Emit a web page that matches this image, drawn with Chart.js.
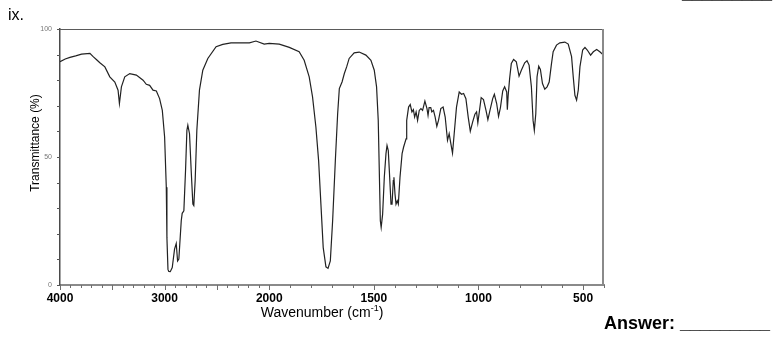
<!DOCTYPE html>
<html>
<head>
<meta charset="utf-8">
<title>IR spectrum</title>
<script src="https://cdn.jsdelivr.net/npm/chart.js@4/dist/chart.umd.min.js"></script>
<style>
  html, body { margin: 0; padding: 0; background: #fff; }
  #wrap { position: relative; width: 781px; height: 339px; }
  canvas { display: block; }
</style>
</head>
<body>
<div id="wrap"><canvas id="ir" width="781" height="339"></canvas></div>
<script>
// Wavenumber (cm-1) of each sampled point, high to low
const wavenumbers = [
  4000, 3950, 3905, 3850, 3794, 3714, 3683, 3650, 3619, 3571, 3524, 3476, 3445, 3432, 3413, 3381,
  3333, 3270, 3206, 3175, 3143, 3111, 3079, 3048, 3022, 3000, 2984, 2978, 2968, 2960, 2946, 2927,
  2905, 2889, 2876, 2864, 2841, 2832, 2816, 2800, 2787, 2778, 2762, 2746, 2730, 2721, 2708, 2692,
  2667, 2635, 2587, 2508, 2444, 2365, 2190, 2127, 2048, 2000, 1952, 1904, 1857, 1833, 1809, 1793,
  1777, 1764, 1753, 1742, 1729, 1719, 1708, 1697, 1684, 1673, 1665, 1652, 1641, 1630, 1618, 1594,
  1570, 1538, 1514, 1498, 1487, 1479, 1474, 1469, 1465, 1458, 1450, 1442, 1437, 1431, 1426, 1418,
  1413, 1407, 1404, 1399, 1394, 1388, 1383, 1375, 1365, 1358, 1346, 1343, 1334, 1326, 1318, 1311,
  1305, 1298, 1291, 1283, 1275, 1267, 1256, 1246, 1241, 1236, 1228, 1223, 1215, 1207, 1199, 1191,
  1180, 1169, 1159, 1148, 1140, 1132, 1124, 1116, 1105, 1092, 1081, 1071, 1060, 1049, 1039, 1028,
  1017, 1009, 1003, 995, 987, 976, 964, 955, 945, 932, 924, 913, 904, 895, 884, 875,
  865, 862, 858, 851, 843, 832, 819, 806, 795, 779, 768, 758, 747, 739, 733, 726,
  720, 712, 704, 694, 683, 672, 662, 651, 643, 627, 611, 587, 571, 555, 547, 539,
  531, 523, 515, 502, 491, 480, 464, 451, 435, 420, 400
];

// Transmittance (%) at each wavenumber above
const transmittance = [
  87.2, 88.3, 88.9, 89.5, 90.2, 90.5, 89.2, 88.0, 86.8, 85.2, 81.3, 79.3, 76.1, 70.9, 77.4, 81.3,
  82.6, 82.0, 80.0, 78.4, 78.0, 76.1, 75.8, 72.8, 68.2, 57.8, 38.2, 18.5, 6.1, 5.3, 5.2, 6.8,
  14.0, 16.2, 9.4, 10.1, 25.1, 28.0, 29.0, 44.7, 60.4, 62.4, 59.1, 44.7, 31.6, 31.0, 40.8, 60.4,
  76.1, 83.9, 88.5, 93.1, 94.0, 94.6, 94.6, 95.3, 94.1, 94.4, 94.1, 92.8, 91.1, 87.8, 81.3, 73.5,
  61.7, 48.6, 31.6, 14.6, 7.1, 6.5, 9.4, 25.1, 48.6, 66.9, 76.7, 79.3, 82.6, 85.2, 88.5, 90.7,
  91.0, 89.8, 87.8, 83.9, 77.4, 64.3, 44.7, 25.1, 22.5, 27.7, 42.1, 51.3, 54.5, 52.5, 44.7, 31.6,
  31.6, 40.8, 42.1, 35.6, 31.6, 32.9, 31.6, 42.1, 51.3, 53.8, 57.1, 64.3, 69.5, 70.5, 67.6, 68.5,
  65.6, 67.6, 64.3, 68.2, 68.9, 68.2, 71.8, 68.9, 66.3, 69.3, 69.3, 67.6, 68.2, 65.6, 62.0, 64.3,
  68.9, 69.5, 65.6, 56.5, 59.1, 55.2, 51.5, 59.1, 69.5, 75.4, 74.5, 74.8, 72.8, 65.6, 60.1, 63.6,
  66.7, 67.6, 63.3, 68.2, 73.2, 72.4, 68.2, 64.6, 68.2, 72.8, 74.5, 70.9, 65.9, 69.3, 75.8, 77.4,
  75.4, 68.5, 74.0, 80.7, 86.5, 88.1, 87.2, 81.6, 83.9, 86.8, 87.6, 85.9, 77.4, 64.3, 60.4, 66.9,
  81.3, 85.5, 84.2, 78.7, 76.5, 77.4, 79.3, 86.5, 91.1, 93.7, 94.6, 94.9, 94.1, 89.2, 81.3, 74.1,
  72.2, 76.1, 85.2, 91.8, 92.8, 91.8, 89.8, 91.1, 92.0, 91.1, 89.6
];

// Axis ticks: a mark every 100 cm-1 and every 10 %, numbers on a few of them
const xTickValues = [];
for (let v = 4000; v >= 400; v -= 100) xTickValues.push(v);
const xLabelValues = [4000, 3000, 2000, 1500, 1000, 500];
const yTickValues = [0, 10, 20, 30, 40, 50, 60, 70, 80, 90, 100];
const yLabelValues = [0, 50, 100];

const FONT = "'Liberation Sans', Arial, Helvetica, sans-serif";

// Wavenumber axis with the usual IR scale change: 4000-2000 runs at half
// the scale of 2000-400.
class IRWaveScale extends Chart.LinearScale {
  static id = 'irwave';
  _units(v) {
    const hi = this.max, brk = 2000;
    return v >= brk ? (hi - v) / 2 : (hi - brk) / 2 + (brk - v);
  }
  _total() { return this._units(this.min); }
  getPixelForValue(value) {
    return this.left + this._units(value) / this._total() * this.width;
  }
  getValueForPixel(pixel) {
    const u = (pixel - this.left) / this.width * this._total();
    const firstPart = (this.max - 2000) / 2;
    return u <= firstPart ? this.max - 2 * u : 2000 - (u - firstPart);
  }
}
Chart.register(IRWaveScale);

// Tick marks, the closing frame edges, axis titles and the page captions
const decor = {
  id: 'decor',
  afterDraw(chart) {
    const { ctx, chartArea: a, scales: { x, y } } = chart;
    ctx.save();

    // top and right edges of the frame
    ctx.strokeStyle = '#5a5a5a';
    ctx.lineWidth = 1;
    ctx.beginPath();
    ctx.moveTo(a.left, a.top + 0.5);
    ctx.lineTo(a.right, a.top + 0.5);
    ctx.stroke();
    ctx.strokeStyle = '#8a8a8a';
    ctx.lineWidth = 2;
    ctx.beginPath();
    ctx.moveTo(a.right - 1, a.top);
    ctx.lineTo(a.right - 1, a.bottom);
    ctx.stroke();

    // x tick marks: longer every 500
    ctx.strokeStyle = '#6e6e6e';
    ctx.lineWidth = 1;
    x.ticks.forEach(t => {
      const px = Math.round(x.getPixelForValue(t.value)) + 0.5;
      const len = t.value % 500 === 0 ? 4 : 2;
      ctx.beginPath();
      ctx.moveTo(px, a.bottom);
      ctx.lineTo(px, a.bottom + 1 + len);
      ctx.stroke();
    });
    // y tick marks
    ctx.strokeStyle = '#555';
    y.ticks.forEach(t => {
      const py = Math.round(y.getPixelForValue(t.value)) + 0.5;
      ctx.beginPath();
      ctx.moveTo(a.left - 3, py);
      ctx.lineTo(a.left, py);
      ctx.stroke();
    });

    // x title with a raised "-1"
    ctx.fillStyle = '#000';
    ctx.textBaseline = 'alphabetic';
    ctx.textAlign = 'left';
    const main = 'Wavenumber (cm';
    const sup = '-1';
    const tail = ')';
    ctx.font = '14px ' + FONT;
    const wMain = ctx.measureText(main).width;
    const wTail = ctx.measureText(tail).width;
    ctx.font = '9px ' + FONT;
    const wSup = ctx.measureText(sup).width;
    const tx = 322 - (wMain + wSup + wTail) / 2;
    const ty = 317;
    ctx.font = '14px ' + FONT;
    ctx.fillText(main, tx, ty);
    ctx.font = '9px ' + FONT;
    ctx.fillText(sup, tx + wMain, ty - 6);
    ctx.font = '14px ' + FONT;
    ctx.fillText(tail, tx + wMain + wSup, ty);

    // y title
    ctx.save();
    ctx.translate(39, 143);
    ctx.rotate(-Math.PI / 2);
    ctx.textAlign = 'center';
    ctx.font = '12px ' + FONT;
    ctx.fillText('Transmittance (%)', 0, 0);
    ctx.restore();

    // page captions
    ctx.textAlign = 'left';
    ctx.font = '16px ' + FONT;
    ctx.fillText('ix.', 8, 20);
    ctx.font = 'bold 18px ' + FONT;
    ctx.fillText('Answer: _________', 604, 329);
    ctx.fillText('_________', 682, -1.5);

    ctx.restore();
  }
};

new Chart(document.getElementById('ir'), {
  type: 'line',
  data: {
    datasets: [{
      data: wavenumbers.map((w, i) => ({ x: w, y: transmittance[i] })),
      borderColor: '#222',
      borderWidth: 1.2,
      pointRadius: 0,
      tension: 0,
      fill: false
    }]
  },
  options: {
    responsive: false,
    animation: false,
    events: [],
    layout: { padding: { top: 29, right: 177, left: 0, bottom: 0 } },
    plugins: { legend: { display: false }, tooltip: { enabled: false } },
    scales: {
      x: {
        type: 'irwave',
        position: 'bottom',
        min: 400,
        max: 4000,
        afterBuildTicks: s => { s.ticks = xTickValues.map(v => ({ value: v })); },
        afterFit: s => { s.height = 54; },
        grid: { display: false, drawTicks: false },
        border: { display: true, color: '#8a8a8a', width: 2 },
        ticks: {
          autoSkip: false,
          maxRotation: 0,
          minRotation: 0,
          padding: 6,
          color: '#000',
          font: { family: FONT, size: 12, weight: 'bold' },
          callback: v => (xLabelValues.includes(v) ? String(v) : '')
        }
      },
      y: {
        type: 'linear',
        position: 'left',
        min: 0,
        max: 100,
        afterBuildTicks: s => { s.ticks = yTickValues.map(v => ({ value: v })); },
        afterFit: s => { s.width = 60; },
        grid: { display: false, drawTicks: false },
        border: { display: true, color: '#4a4a4a', width: 1.5 },
        ticks: {
          autoSkip: false,
          padding: 8,
          color: '#777',
          font: { family: FONT, size: 7 },
          callback: v => (yLabelValues.includes(v) ? String(v) : '')
        }
      }
    }
  },
  plugins: [decor]
});
</script>
</body>
</html>
